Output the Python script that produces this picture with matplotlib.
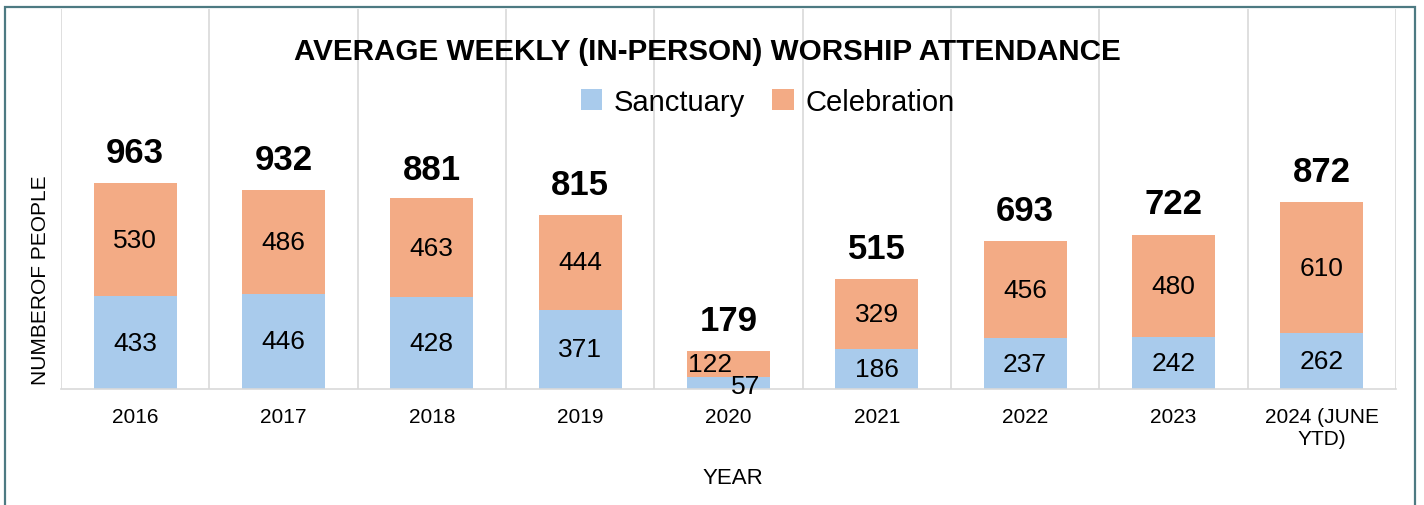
import numpy as np
import matplotlib.pyplot as plt
from matplotlib.patches import Rectangle

plt.rcParams['font.family'] = ['Liberation Sans', 'DejaVu Sans']

years = ["2016", "2017", "2018", "2019", "2020", "2021", "2022", "2023", "2024 (JUNE\nYTD)"]
sanctuary = [433, 446, 428, 371, 57, 186, 237, 242, 262]
celebration = [530, 486, 463, 444, 122, 329, 456, 480, 610]
totals = [963, 932, 881, 815, 179, 515, 693, 722, 872]

blue = "#a9cbec"
orange = "#f3ab85"

fig = plt.figure(figsize=(14.24, 5.06), dpi=100)
ax = fig.add_axes([0.0428, 0.2292, 0.9375, 0.751])

x = np.arange(len(years))
w = 0.56
ax.bar(x, sanctuary, w, color=blue, label="Sanctuary", zorder=2)
ax.bar(x, celebration, w, bottom=sanctuary, color=orange, label="Celebration", zorder=2)

for i in range(len(years)):
    s, c, t = sanctuary[i], celebration[i], totals[i]
    if years[i] == "2020":
        # small bar: labels pushed around like in the original
        ax.text(i - w / 2 + 0.01, s + c / 2, str(c), ha="left", va="center", fontsize=19)
        ax.text(i + 0.02, s / 2 - 15, str(s), ha="left", va="center", fontsize=19)
    else:
        ax.text(i, s / 2, str(s), ha="center", va="center", fontsize=19)
        ax.text(i, s + c / 2, str(c), ha="center", va="center", fontsize=19)
    ax.text(i, t + 143, str(t), ha="center", va="center", fontsize=25, fontweight="bold")

ax.set_xlim(-0.5, len(years) - 0.5)
ax.set_ylim(0, 1776)
ax.set_xticks(x)
ax.set_xticklabels(years, fontsize=15, linespacing=1.2)
ax.set_yticks([])
ax.tick_params(axis="x", length=0, pad=13)
for b in np.arange(-0.5, len(years), 1.0):
    ax.axvline(b, color="#d9d9d9", lw=1.2, zorder=1)
for sp in ["top", "left", "right"]:
    ax.spines[sp].set_visible(False)
ax.spines["bottom"].set_color("#d9d9d9")
ax.spines["bottom"].set_linewidth(1.2)

ax.set_ylabel("NUMBEROF PEOPLE", fontsize=15)
ax.yaxis.set_label_coords(-0.008, 0.29)
ax.set_xlabel("YEAR", fontsize=16)
ax.xaxis.set_label_coords(0.503, -0.205)

fig.text(0.497, 0.897, "AVERAGE WEEKLY (IN-PERSON) WORSHIP ATTENDANCE", ha="center", va="center",
         fontsize=21.3, fontweight="bold")
ax.legend(loc="center", bbox_to_anchor=(0.539, 0.797), ncol=2, frameon=False, fontsize=21,
          handlelength=0.75, handleheight=0.75, handletextpad=0.4, columnspacing=0.9,
          bbox_transform=fig.transFigure)

fig.patches.append(Rectangle((0.0035, -0.01), 0.9902, 0.994, transform=fig.transFigure,
                             fill=False, edgecolor="#4d7a82", lw=1.6))

fig.savefig("out.png", dpi=100)
